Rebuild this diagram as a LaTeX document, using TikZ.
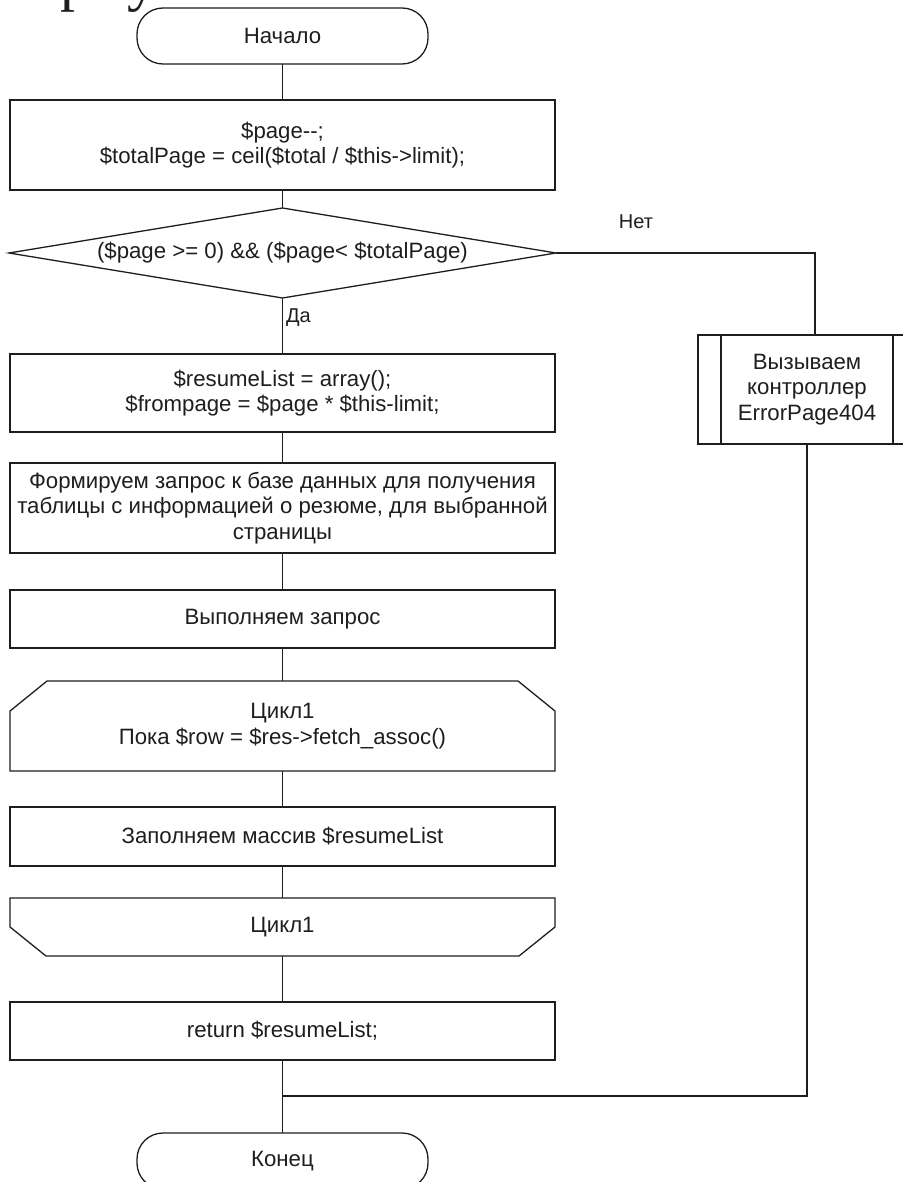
\documentclass[tikz,border=0pt]{standalone}
\usepackage{fontspec}
\newfontfamily\flowfont{Liberation Sans}
\newfontfamily\bodyfont{Liberation Serif}
\usetikzlibrary{calc}
\definecolor{ink}{HTML}{1E1E1E}
\begin{document}
\begin{tikzpicture}[x=1pt,y=-1pt,
  every node/.style={font=\flowfont\fontsize{22.2}{25.5}\selectfont, text=ink,
    align=center, inner sep=0pt, outer sep=0pt},
  outline/.style={draw=ink, line width=1.3pt, line join=miter},
  term/.style={outline, rounded corners=26pt, minimum width=291pt, minimum height=56pt},
  proc/.style={outline, minimum width=545pt, minimum height=#1},
  area/.style={minimum width=545pt, minimum height=#1},
  link/.style={draw=ink, line width=1.3pt},
  lbl/.style={font=\flowfont\fontsize{20}{24}\selectfont}
]
\fill[white] (0,0) rectangle (902,1182);
\useasboundingbox (0,0) rectangle (902,1182);

% line of body text above the chart, mostly outside the page
\node[font=\bodyfont\fontsize{60}{66}\selectfont, anchor=base west] (caption) at (60,0) {рму};

% main column
\node[term] (start) at (282.5,36) {Начало};
\node[proc=90pt] (b1) at (282.5,145) {\$page-{}-;\\\$totalPage = ceil(\$total / \$this->limit);};
\node[area=90pt, minimum width=547pt] (dec) at (282.5,253) {(\$page >= 0) \&\& (\$page< \$totalPage)};
\draw[outline] (dec.north) -- (dec.east) -- (dec.south) -- (dec.west) -- cycle;
\node[proc=78pt] (b2) at (282.5,393) {\$resumeList = array();\\\$frompage = \$page * \$this-limit;};
\node[proc=90pt] (b3) at (282.5,508) {Формируем запрос к базе данных для получения\\таблицы с информацией о резюме, для выбранной\\страницы};
\node[proc=58pt] (b4) at (282.5,619) {Выполняем запрос};
\node[area=90pt] (l1) at (282.5,726) {Цикл1\\Пока \$row = \$res->fetch\_assoc()};
\draw[outline] (l1.south west) -- ([yshift=-30pt]l1.north west) -- ([xshift=37pt]l1.north west)
  -- ([xshift=-37pt]l1.north east) -- ([yshift=-30pt]l1.north east) -- (l1.south east) -- cycle;
\node[proc=59pt] (b5) at (282.5,836.5) {Заполняем массив \$resumeList};
\node[area=58pt] (l2) at (282.5,927) {Цикл1};
\draw[outline] (l2.north west) -- (l2.north east) -- ([yshift=29pt]l2.south east)
  -- ([xshift=-36pt]l2.south east) -- ([xshift=36pt]l2.south west) -- ([yshift=29pt]l2.south west) -- cycle;
\node[proc=58pt] (b6) at (282.5,1031) {return \$resumeList;};
\node[term] (end) at (282.5,1161) {Конец};

% error branch
\node[outline, minimum width=218pt, minimum height=109pt] (err) at (807,389.5) {Вызываем\\контроллер\\ErrorPage404};
\draw[outline] ([xshift=23pt]err.north west) -- ([xshift=23pt]err.south west);
\draw[outline] ([xshift=-23pt]err.north east) -- ([xshift=-23pt]err.south east);

% branch labels
\node[lbl] (no) at (636,222) {Нет};
\node[lbl, anchor=west] (yes) at (286,318) {Да};

\coordinate (merge) at (282.5,1096);

% connectors
\draw[link] (start) -- (b1);
\draw[link] (b1) -- (dec.north);
\draw[link] (dec.south) -- (b2);
\draw[link] (b2) -- (b3);
\draw[link] (b3) -- (b4);
\draw[link] (b4) -- (l1);
\draw[link] (l1) -- (b5);
\draw[link] (b5) -- (l2);
\draw[link] (l2) -- (b6);
\draw[link] (b6) -- (end);
\draw[link] (dec.east) -| ([xshift=8pt]err.north);
\draw[link] (err.south) |- (merge);
\end{tikzpicture}
\end{document}
